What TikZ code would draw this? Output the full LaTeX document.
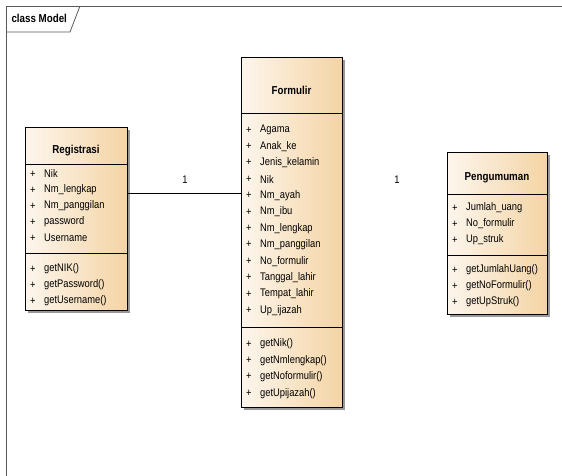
\documentclass[tikz,border=0pt]{standalone}
\usepackage{fontspec}
\setmainfont{Liberation Sans}[FakeStretch=0.85]
\usetikzlibrary{shadows}
\definecolor{boxleft}{RGB}{253,246,237}
\definecolor{boxright}{RGB}{244,212,164}
\definecolor{framegray}{RGB}{90,90,90}

\begin{document}
\begin{tikzpicture}[
  x=1pt,y=-1pt,
  font=\fontsize{11}{13}\selectfont,
  classbox/.style={
    draw=black,
    line width=0.9pt,
    left color=boxleft,
    right color=boxright,
    drop shadow={shadow xshift=3pt,shadow yshift=-3pt,fill=black!40,opacity=1},
    inner sep=0pt
  },
  title/.style={font=\fontsize{11.5}{13}\selectfont\bfseries,anchor=center},
  member/.style={anchor=west,inner sep=0pt},
  sep/.style={draw=black,line width=0.9pt}
]
\useasboundingbox (0,0) rectangle (562,475);
\fill[white] (0,0) rectangle (562,475);
\draw[framegray,line width=1pt] (6,480) -- (6,6) -- (570,6);
\draw[framegray,line width=0.8pt] (6,32) -- (70,32) -- (80,6);
\node[font=\fontsize{11.5}{13}\selectfont\bfseries,anchor=west] (frametitle) at (8,18) {class Model};

\node[classbox,minimum width=102pt,minimum height=183pt] (registrasi) at (76,218.5) {};
\node[classbox,minimum width=101pt,minimum height=350pt] (formulir) at (291.5,232) {};
\node[classbox,minimum width=100pt,minimum height=162pt] (pengumuman) at (497,233) {};

\node[title] (registrasititle) at (76,151) {Registrasi};
\node[title] (formulirtitle) at (291.5,90) {Formulir};
\node[title] (pengumumantitle) at (497,178) {Pengumuman};

\draw[sep] (25,164) -- (127,164);
\draw[sep] (25,253) -- (127,253);
\draw[sep] (241,113) -- (342,113);
\draw[sep] (241,327) -- (342,327);
\draw[sep] (447,194) -- (547,194);
\draw[sep] (447,255) -- (547,255);

\foreach \t [count=\i] in {Nik,Nm\_lengkap,Nm\_panggilan,password,Username}{
  \node[member] (ra\i) at (30,174+16*\i-16) {+};
  \node[member] (ran\i) at (44,174+16*\i-16) {\t};
}
\foreach \t [count=\i] in {getNIK(),getPassword(),getUsername()}{
  \node[member] (rm\i) at (30,269+16*\i-16) {+};
  \node[member] (rmn\i) at (44,269+16*\i-16) {\t};
}

\foreach \t [count=\i] in {Agama,Anak\_ke,Jenis\_kelamin,Nik,Nm\_ayah,Nm\_ibu,Nm\_lengkap,Nm\_panggilan,No\_formulir,Tanggal\_lahir,Tempat\_lahir,Up\_ijazah}{
  \node[member] (fa\i) at (246,130+16.4*\i-16.4) {+};
  \node[member] (fan\i) at (260,130+16.4*\i-16.4) {\t};
}
\foreach \t [count=\i] in {getNik(),getNmlengkap(),getNoformulir(),getUpijazah()}{
  \node[member] (fm\i) at (246,344+16.4*\i-16.4) {+};
  \node[member] (fmn\i) at (260,344+16.4*\i-16.4) {\t};
}

\foreach \t [count=\i] in {Jumlah\_uang,No\_formulir,Up\_struk}{
  \node[member] (pa\i) at (452,208+16*\i-16) {+};
  \node[member] (pan\i) at (466,208+16*\i-16) {\t};
}
\foreach \t [count=\i] in {getJumlahUang(),getNoFormulir(),getUpStruk()}{
  \node[member] (pm\i) at (452,270+16*\i-16) {+};
  \node[member] (pmn\i) at (466,270+16*\i-16) {\t};
}

\draw[line width=0.9pt] ([yshift=25.5pt]registrasi.east) -- ([yshift=25.5pt]registrasi.east -| formulir.west);
\node (mult1) at (185,180) {1};
\node (mult2) at (397,180) {1};
\end{tikzpicture}
\end{document}
